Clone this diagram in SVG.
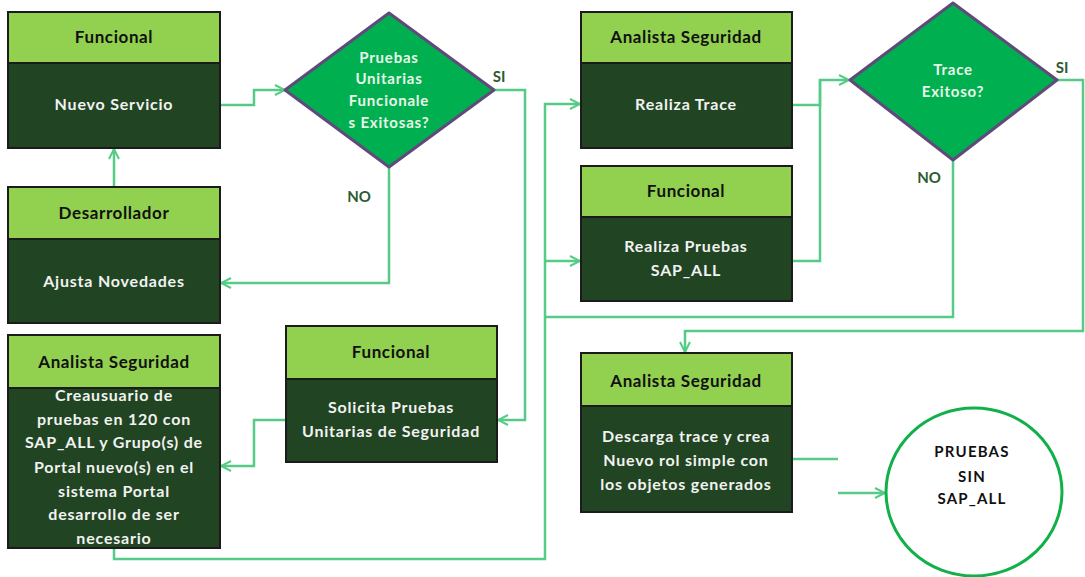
<svg xmlns="http://www.w3.org/2000/svg" width="1085" height="577" viewBox="0 0 1085 577">
  <style>
    .head { fill: #92D050; stroke: #1b1b1b; stroke-width: 2; }
    .body { fill: #214522; stroke: #1b1b1b; stroke-width: 2; }
    .htxt { font-family: Lato, "Liberation Sans", sans-serif; font-weight: bold; font-size: 17px; letter-spacing: 0.6px; fill: #111; text-anchor: middle; }
    .btxt { font-family: Lato, "Liberation Sans", sans-serif; font-weight: bold; font-size: 16px; letter-spacing: 0.8px; fill: #F2F2F2; text-anchor: middle; }
    .dia { fill: #00B050; stroke: #604A7B; stroke-width: 3; stroke-linejoin: round; }
    .dtxt { font-family: Lato, "Liberation Sans", sans-serif; font-weight: bold; font-size: 15px; letter-spacing: 0.8px; fill: #EAF5E8; text-anchor: middle; }
    .lbl { font-family: Lato, "Liberation Sans", sans-serif; font-weight: bold; font-size: 15px; fill: #2E5A33; text-anchor: middle; }
    .conn { fill: none; stroke: #55CB86; stroke-width: 2.5; }
    .ctxt { font-family: Lato, "Liberation Sans", sans-serif; font-weight: bold; font-size: 15px; letter-spacing: 1.2px; fill: #111; text-anchor: middle; }
  </style>
  <defs>
    <marker id="arrow" viewBox="0 0 12 12" refX="11" refY="6" markerWidth="12" markerHeight="12" markerUnits="userSpaceOnUse" orient="auto">
      <path d="M1,1 L11,6 L1,11" fill="none" stroke="#55CB86" stroke-width="2"/>
    </marker>
  </defs>

  <rect width="1085" height="577" fill="#ffffff"/>

  <!-- connectors -->
  <g id="connectors">
    <polyline class="conn" points="220,105 254,105 254,90 285,90" marker-end="url(#arrow)"/>
    <polyline class="conn" points="114,187 114,149" marker-end="url(#arrow)"/>
    <polyline class="conn" points="389,167 389,283 221,283" marker-end="url(#arrow)"/>
    <polyline class="conn" points="494,90 525,90 525,420 498,420" marker-end="url(#arrow)"/>
    <polyline class="conn" points="286,420 254,420 254,466 221,466" marker-end="url(#arrow)"/>
    <polyline class="conn" points="114,548 114,559 545,559 545,104 580,104" marker-end="url(#arrow)"/>
    <polyline class="conn" points="545,261 580,261" marker-end="url(#arrow)"/>
    <polyline class="conn" points="953,160 953,317 545,317"/>
    <polyline class="conn" points="792,105 820,105 820,80 849,80" marker-end="url(#arrow)"/>
    <polyline class="conn" points="792,261 820,261 820,80"/>
    <polyline class="conn" points="1057,80 1083,80 1083,331 685,331 685,352" marker-end="url(#arrow)"/>
    <polyline class="conn" points="792,459 838,459"/>
    <polyline class="conn" points="838,493 885,493" marker-end="url(#arrow)"/>
  </g>

  <!-- Funcional: Nuevo Servicio -->
  <g id="nuevo-servicio">
    <rect class="head" x="8" y="12" width="212" height="51"/>
    <rect class="body" x="8" y="63" width="212" height="85"/>
    <text class="htxt" x="114" y="43">Funcional</text>
    <text class="btxt" x="114" y="110">Nuevo Servicio</text>
  </g>

  <!-- Desarrollador: Ajusta Novedades -->
  <g id="ajusta-novedades">
    <rect class="head" x="8" y="187" width="212" height="52"/>
    <rect class="body" x="8" y="239" width="212" height="84"/>
    <text class="htxt" x="114" y="219">Desarrollador</text>
    <text class="btxt" x="114" y="287">Ajusta Novedades</text>
  </g>

  <!-- Analista Seguridad: crea usuario -->
  <g id="crea-usuario">
    <rect class="head" x="8" y="335" width="212" height="53"/>
    <rect class="body" x="8" y="388" width="212" height="160"/>
    <text class="htxt" x="114" y="368">Analista Seguridad</text>
    <text class="btxt" x="114" y="401">Creausuario  de</text>
    <text class="btxt" x="114" y="425">pruebas en 120 con</text>
    <text class="btxt" x="114" y="448">SAP_ALL y Grupo(s) de</text>
    <text class="btxt" x="114" y="473">Portal nuevo(s) en el</text>
    <text class="btxt" x="114" y="497">sistema Portal</text>
    <text class="btxt" x="114" y="520">desarrollo de ser</text>
    <text class="btxt" x="114" y="544">necesario</text>
  </g>

  <!-- Decision: pruebas unitarias funcionales -->
  <g id="decision-funcionales">
    <polygon class="dia" points="285,90 389,13 494,90 389,167"/>
    <text class="dtxt" x="389" y="63">Pruebas</text>
    <text class="dtxt" x="389" y="84">Unitarias</text>
    <text class="dtxt" x="389" y="106">Funcionale</text>
    <text class="dtxt" x="389" y="128">s Exitosas?</text>
    <text class="lbl" x="499" y="82">SI</text>
    <text class="lbl" x="359" y="202">NO</text>
  </g>

  <!-- Funcional: Solicita pruebas -->
  <g id="solicita-pruebas">
    <rect class="head" x="286" y="326" width="211" height="53"/>
    <rect class="body" x="286" y="379" width="211" height="83"/>
    <text class="htxt" x="391" y="358">Funcional</text>
    <text class="btxt" x="391" y="413">Solicita Pruebas</text>
    <text class="btxt" x="391" y="437">Unitarias de Seguridad</text>
  </g>

  <!-- Analista Seguridad: Realiza Trace -->
  <g id="realiza-trace">
    <rect class="head" x="581" y="12" width="211" height="51"/>
    <rect class="body" x="581" y="63" width="211" height="85"/>
    <text class="htxt" x="686" y="43">Analista Seguridad</text>
    <text class="btxt" x="686" y="110">Realiza Trace</text>
  </g>

  <!-- Funcional: Realiza Pruebas SAP_ALL -->
  <g id="realiza-pruebas">
    <rect class="head" x="581" y="166" width="211" height="51"/>
    <rect class="body" x="581" y="217" width="211" height="84"/>
    <text class="htxt" x="686" y="197">Funcional</text>
    <text class="btxt" x="686" y="252">Realiza Pruebas</text>
    <text class="btxt" x="686" y="276">SAP_ALL</text>
  </g>

  <!-- Decision: trace exitoso -->
  <g id="decision-trace">
    <polygon class="dia" points="850,80 953,3 1057,80 953,160"/>
    <text class="dtxt" x="953" y="75">Trace</text>
    <text class="dtxt" x="953" y="97">Exitoso?</text>
    <text class="lbl" x="1062" y="73">SI</text>
    <text class="lbl" x="929" y="183">NO</text>
  </g>

  <!-- Analista Seguridad: Descarga trace -->
  <g id="descarga-trace">
    <rect class="head" x="581" y="353" width="211" height="53"/>
    <rect class="body" x="581" y="406" width="211" height="106"/>
    <text class="htxt" x="686" y="387">Analista Seguridad</text>
    <text class="btxt" x="686" y="442">Descarga trace y crea</text>
    <text class="btxt" x="686" y="466">Nuevo rol simple con</text>
    <text class="btxt" x="686" y="490">los objetos generados</text>
  </g>

  <!-- End: pruebas sin SAP_ALL -->
  <g id="fin">
    <ellipse cx="974" cy="492" rx="88" ry="84" fill="#ffffff" stroke="#12B04A" stroke-width="3"/>
    <text class="ctxt" x="972" y="457">PRUEBAS</text>
    <text class="ctxt" x="972" y="482">SIN</text>
    <text class="ctxt" x="972" y="504">SAP_ALL</text>
  </g>
</svg>
